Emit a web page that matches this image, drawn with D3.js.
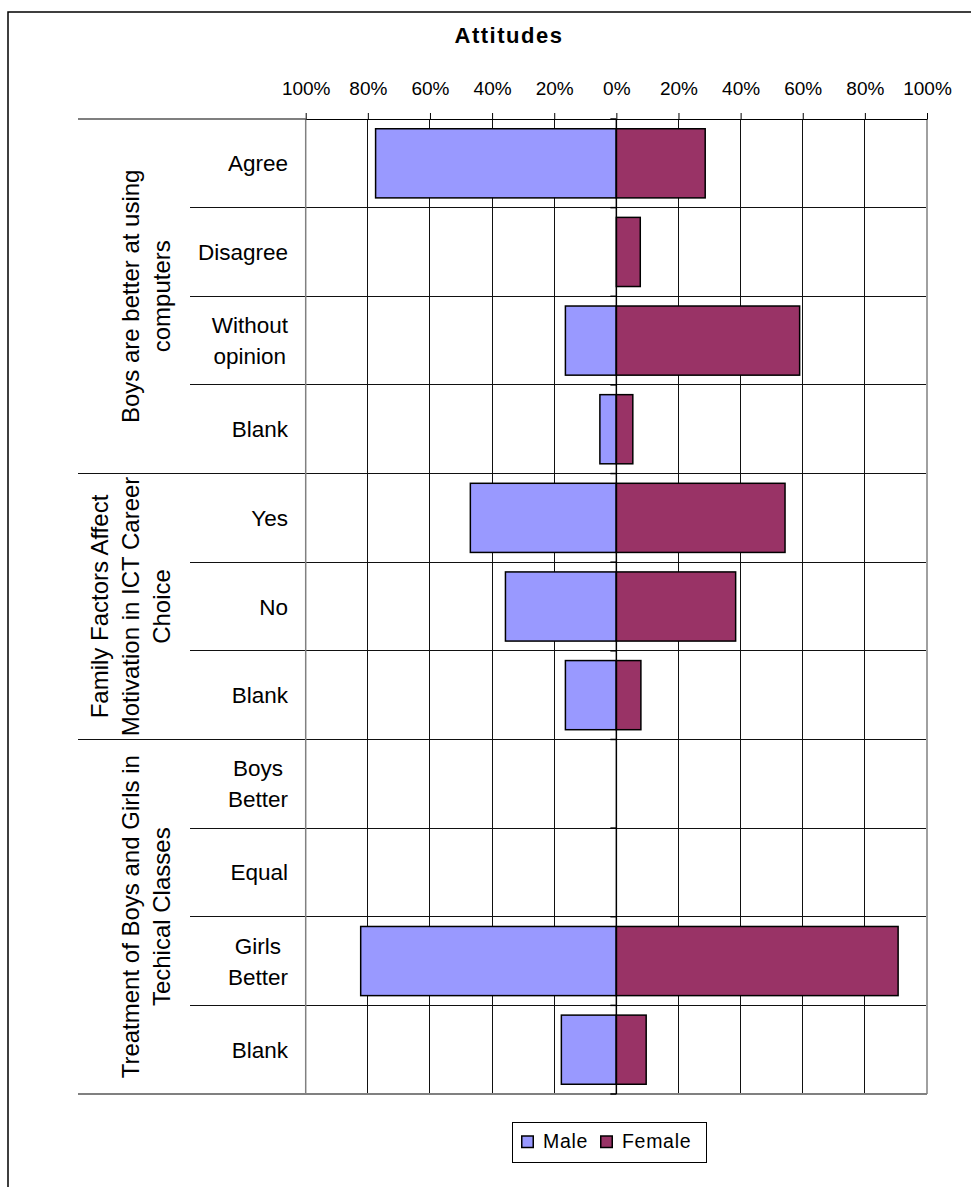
<!DOCTYPE html>
<html>
<head>
<meta charset="utf-8">
<script src="https://cdn.jsdelivr.net/npm/d3@7"></script>
<style>
  body { margin: 0; background: #fff; }
  svg { display: block; }
  text { font-family: "Liberation Sans", Arial, sans-serif; fill: #000; }
</style>
</head>
<body>
<svg id="chart" width="971" height="1187"></svg>
<script>
// ---- data ----
const chartTitle = "Attitudes";
const seriesNames = ["Male", "Female"];
const categories = ["Agree", "Disagree", "Without opinion", "Blank",
                    "Yes", "No", "Blank",
                    "Boys Better", "Equal", "Girls Better", "Blank"];
const categoryGroup = [0, 0, 0, 0, 1, 1, 1, 2, 2, 2, 2];
const groupLabels = [
  ["Boys are better at using", "computers"],
  ["Family Factors Affect", "Motivation in ICT Career", "Choice"],
  ["Treatment of Boys and Girls in", "Techical Classes"]
];
const maleValues   = [77.5, 0, 16.4, 5.3, 47.0, 35.7, 16.4, 0, 0, 82.3, 17.7];
const femaleValues = [28.6, 7.7, 59.0, 5.3, 54.3, 38.4, 7.9, 0, 0, 90.7, 9.6];
const tickValues = [-100, -80, -60, -40, -20, 0, 20, 40, 60, 80, 100];
const tickLabels = ["100%", "80%", "60%", "40%", "20%", "0%", "20%", "40%", "60%", "80%", "100%"];

// ---- layout ----
const plot = { left: 305.7, right: 927, top: 119, bottom: 1094 };
const colors = { Male: "#9999ff", Female: "#993366" };
const groupFontSize = 24;
const svg = d3.select("#chart");

// outer chart frame
svg.append("rect")
  .attr("x", 8).attr("y", 12).attr("width", 1000).attr("height", 1200)
  .attr("fill", "#fff").attr("stroke", "#000").attr("stroke-width", 1.5);

const x = d3.scaleLinear().domain([-100, 100]).range([plot.left, plot.right]);
const y = d3.scaleBand()
  .domain(d3.range(categories.length))
  .range([plot.top, plot.bottom])
  .paddingInner(0.22).paddingOuter(0.11);
const step = y.step();
const rowEdge = i => plot.top + i * step;

// title
svg.append("text")
  .attr("x", 509).attr("y", 42.7)
  .attr("text-anchor", "middle")
  .style("font-size", "22px").style("font-weight", "bold").style("letter-spacing", "1.5px")
  .text(chartTitle);

// vertical gridlines
const grid = svg.append("g");
grid.selectAll("line.v")
  .data(tickValues.filter(t => t > -100 && t < 100))
  .join("line")
  .attr("x1", d => x(d)).attr("x2", d => x(d))
  .attr("y1", plot.top).attr("y2", plot.bottom)
  .attr("stroke", "#111").attr("stroke-width", 1).attr("shape-rendering", "crispEdges");

// horizontal row separators, extended into the label area
grid.selectAll("line.h")
  .data(d3.range(1, categories.length))
  .join("line")
  .attr("x1", i => categoryGroup[i] !== categoryGroup[i - 1] ? 78 : 190)
  .attr("x2", plot.right)
  .attr("y1", i => rowEdge(i)).attr("y2", i => rowEdge(i))
  .attr("stroke", "#111").attr("stroke-width", 1).attr("shape-rendering", "crispEdges");

// plot borders
svg.append("line").attr("x1", plot.left).attr("x2", plot.left)
  .attr("y1", plot.top).attr("y2", plot.bottom)
  .attr("stroke", "#808080").attr("stroke-width", 1.5);
svg.append("line").attr("x1", plot.right).attr("x2", plot.right)
  .attr("y1", plot.top).attr("y2", plot.bottom)
  .attr("stroke", "#a0a0a0").attr("stroke-width", 2);
svg.append("line").attr("x1", 78).attr("x2", plot.right)
  .attr("y1", plot.bottom).attr("y2", plot.bottom)
  .attr("stroke", "#808080").attr("stroke-width", 2);
svg.append("line").attr("x1", 78).attr("x2", plot.left)
  .attr("y1", plot.top).attr("y2", plot.top)
  .attr("stroke", "#000").attr("stroke-width", 1.2);

// value axis along the top
const xAxis = d3.axisTop(x)
  .tickValues(tickValues)
  .tickFormat((d, i) => tickLabels[i])
  .tickSize(6).tickSizeOuter(0).tickPadding(18);
const ax = svg.append("g").attr("transform", `translate(0,${plot.top})`).call(xAxis);
ax.select(".domain").attr("stroke", "#000").attr("stroke-width", 1.2);
ax.selectAll(".tick line").attr("stroke", "#000");
ax.selectAll(".tick text")
  .attr("dy", null)
  .style("font-size", "19px").style("font-family", "'Liberation Sans', Arial, sans-serif");

// bars
const bars = svg.append("g");
bars.selectAll("rect.male")
  .data(maleValues.map((v, i) => ({ v, i })).filter(d => d.v > 0))
  .join("rect")
  .attr("x", d => x(-d.v)).attr("width", d => x(0) - x(-d.v))
  .attr("y", d => y(d.i)).attr("height", y.bandwidth())
  .attr("fill", colors.Male).attr("stroke", "#000").attr("stroke-width", 1.5);
bars.selectAll("rect.female")
  .data(femaleValues.map((v, i) => ({ v, i })).filter(d => d.v > 0))
  .join("rect")
  .attr("x", x(0)).attr("width", d => x(d.v) - x(0))
  .attr("y", d => y(d.i)).attr("height", y.bandwidth())
  .attr("fill", colors.Female).attr("stroke", "#000").attr("stroke-width", 1.5);

// category axis at 0%
const zeroAxis = svg.append("g");
zeroAxis.append("line")
  .attr("x1", x(0)).attr("x2", x(0)).attr("y1", plot.top).attr("y2", plot.bottom)
  .attr("stroke", "#000").attr("stroke-width", 1.5);
zeroAxis.selectAll("line.tk")
  .data(d3.range(0, categories.length + 1))
  .join("line")
  .attr("x1", x(0) - 6).attr("x2", x(0))
  .attr("y1", i => rowEdge(i)).attr("y2", i => rowEdge(i))
  .attr("stroke", "#000").attr("stroke-width", 1.5);

// category labels, right-aligned block with centred lines
const labelRight = 288, labelSize = 22.5, lineGap = 31;
categories.forEach((c, i) => {
  const lines = c.split(" ");
  const g = svg.append("g");
  const texts = lines.map(l => g.append("text").style("font-size", labelSize + "px").text(l));
  const maxW = d3.max(texts, t => t.node().getComputedTextLength());
  const cy = y(i) + y.bandwidth() / 2;
  const firstBase = cy + 8 - (lines.length - 1) * lineGap / 2;
  texts.forEach((t, k) => {
    t.attr("x", labelRight - maxW / 2).attr("y", firstBase + k * lineGap)
      .attr("text-anchor", "middle");
  });
});

// group labels, rotated
groupLabels.forEach((lines, g) => {
  const idx = d3.range(categories.length).filter(i => categoryGroup[i] === g);
  const cy = (rowEdge(d3.min(idx)) + rowEdge(d3.max(idx) + 1)) / 2;
  lines.forEach((l, k) => {
    const bx = 169.5 - (lines.length - 1 - k) * lineGap;
    svg.append("text")
      .attr("transform", `translate(${bx},${cy}) rotate(-90)`)
      .attr("text-anchor", "middle")
      .style("font-size", groupFontSize + "px")
      .text(l);
  });
});

// legend
const legend = svg.append("g");
legend.append("rect")
  .attr("x", 512.5).attr("y", 1122.5).attr("width", 194).attr("height", 40)
  .attr("fill", "#fff").attr("stroke", "#000").attr("stroke-width", 1);
const legendX = [521, 600];
seriesNames.forEach((s, k) => {
  legend.append("rect")
    .attr("x", legendX[k] + 0.75).attr("y", 1136).attr("width", 11.5).attr("height", 11.5)
    .attr("fill", colors[s]).attr("stroke", "#000").attr("stroke-width", 1.5);
  legend.append("text")
    .attr("x", legendX[k] + 22).attr("y", 1147.5)
    .style("font-size", "19.5px").style("letter-spacing", "0.7px")
    .text(s);
});
</script>
</body>
</html>
